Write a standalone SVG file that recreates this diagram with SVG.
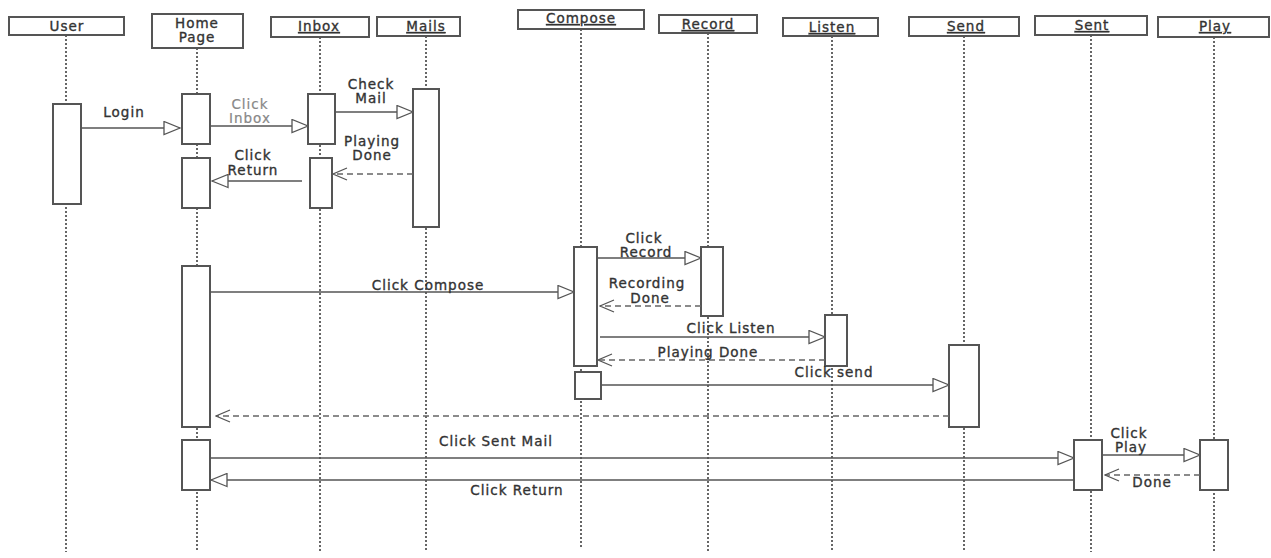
<svg xmlns="http://www.w3.org/2000/svg" width="1271" height="558" viewBox="0 0 1271 558">
<style>
.hdr{fill:#fff;stroke:#555;stroke-width:2}
.life{stroke:#666;stroke-width:2;stroke-dasharray:2 2;fill:none}
.act{fill:#fff;stroke:#555;stroke-width:2}
.msg{stroke:#555;stroke-width:1.3;fill:none}
.ret{stroke:#666;stroke-width:1.3;stroke-dasharray:6 4;fill:none}
text{font-family:"DejaVu Sans","Liberation Sans",sans-serif;font-size:13.5px;fill:#333;stroke:#333;stroke-width:0.35;letter-spacing:1px;text-anchor:middle}
.u{text-decoration:underline}
.g{fill:#888;stroke:#888;stroke-width:0.2}
</style>
<defs>
<marker id="tri" markerUnits="userSpaceOnUse" markerWidth="18" markerHeight="15" refX="16" refY="6.5" orient="auto" viewBox="-1 -1 18 15">
<path d="M0,0 L16,6.5 L0,13 Z" fill="#fff" stroke="#555" stroke-width="1.3"/>
</marker>
<marker id="open" markerUnits="userSpaceOnUse" markerWidth="16" markerHeight="14" refX="14" refY="6" orient="auto" viewBox="-1 -1 16 14">
<path d="M0,0 L14,6 L0,12" fill="none" stroke="#555" stroke-width="1.3"/>
</marker>
</defs>
<g id="lifelines">
<line class="life" x1="66" y1="35" x2="66" y2="552"/>
<line class="life" x1="197" y1="48" x2="197" y2="552"/>
<line class="life" x1="320" y1="37" x2="320" y2="552"/>
<line class="life" x1="426" y1="36" x2="426" y2="552"/>
<line class="life" x1="581" y1="29" x2="581" y2="548"/>
<line class="life" x1="708" y1="33" x2="708" y2="552"/>
<line class="life" x1="832" y1="36" x2="832" y2="552"/>
<line class="life" x1="964" y1="36" x2="964" y2="552"/>
<line class="life" x1="1091" y1="35" x2="1091" y2="552"/>
<line class="life" x1="1214" y1="37" x2="1214" y2="552"/>
</g>
<g id="node-user">
<rect class="hdr" x="9" y="17" width="115" height="18"/>
<text x="67" y="31">User</text>
<rect class="act" x="53" y="104" width="28" height="100"/>
</g>
<g id="node-home">
<rect class="hdr" x="152" y="14" width="91" height="34"/>
<text x="197" y="28">Home</text>
<text x="197" y="42">Page</text>
<rect class="act" x="182" y="94" width="28" height="50"/>
<rect class="act" x="182" y="158" width="28" height="50"/>
<rect class="act" x="182" y="266" width="28" height="161"/>
<rect class="act" x="182" y="440" width="28" height="50"/>
</g>
<g id="node-inbox">
<rect class="hdr" x="271" y="17" width="98" height="20"/>
<text class="u" x="319" y="31">Inbox</text>
<rect class="act" x="308" y="94" width="27" height="50"/>
<rect class="act" x="310" y="158" width="22" height="50"/>
</g>
<g id="node-mails">
<rect class="hdr" x="377" y="17" width="83" height="19"/>
<text class="u" x="426" y="31">Mails</text>
<rect class="act" x="413" y="89" width="26" height="138"/>
</g>
<g id="node-compose">
<rect class="hdr" x="518" y="10" width="126" height="19"/>
<text class="u" x="581" y="23">Compose</text>
<rect class="act" x="574" y="247" width="23" height="119"/>
<rect class="act" x="575" y="372" width="26" height="27"/>
</g>
<g id="node-record">
<rect class="hdr" x="659" y="15" width="98" height="18"/>
<text class="u" x="708" y="29">Record</text>
<rect class="act" x="701" y="247" width="22" height="69"/>
</g>
<g id="node-listen">
<rect class="hdr" x="783" y="18" width="95" height="18"/>
<text class="u" x="832" y="32">Listen</text>
<rect class="act" x="825" y="315" width="22" height="51"/>
</g>
<g id="node-send">
<rect class="hdr" x="909" y="17" width="110" height="19"/>
<text class="u" x="966" y="31">Send</text>
<rect class="act" x="949" y="345" width="30" height="82"/>
</g>
<g id="node-sent">
<rect class="hdr" x="1035" y="16" width="112" height="19"/>
<text class="u" x="1092" y="30">Sent</text>
<rect class="act" x="1074" y="440" width="28" height="50"/>
</g>
<g id="node-play">
<rect class="hdr" x="1158" y="17" width="111" height="20"/>
<text class="u" x="1215" y="31">Play</text>
<rect class="act" x="1200" y="440" width="28" height="50"/>
</g>
<g id="connectors">
<line class="msg" x1="81" y1="128" x2="180" y2="128" marker-end="url(#tri)"/>
<line class="msg" x1="210" y1="126" x2="308" y2="126" marker-end="url(#tri)"/>
<line class="msg" x1="335" y1="112" x2="413" y2="112" marker-end="url(#tri)"/>
<line class="ret" x1="413" y1="174" x2="333" y2="174" marker-end="url(#open)"/>
<line class="msg" x1="302" y1="181" x2="212" y2="181" marker-end="url(#tri)"/>
<line class="msg" x1="210" y1="292" x2="574" y2="292" marker-end="url(#tri)"/>
<line class="msg" x1="597" y1="258" x2="701" y2="258" marker-end="url(#tri)"/>
<line class="ret" x1="701" y1="306" x2="600" y2="306" marker-end="url(#open)"/>
<line class="msg" x1="600" y1="337" x2="825" y2="337" marker-end="url(#tri)"/>
<line class="ret" x1="825" y1="360" x2="598" y2="360" marker-end="url(#open)"/>
<line class="msg" x1="601" y1="385" x2="949" y2="385" marker-end="url(#tri)"/>
<line class="ret" x1="949" y1="416" x2="216" y2="416" marker-end="url(#open)"/>
<line class="msg" x1="210" y1="458" x2="1074" y2="458" marker-end="url(#tri)"/>
<line class="msg" x1="1074" y1="480" x2="211" y2="480" marker-end="url(#tri)"/>
<line class="msg" x1="1102" y1="455" x2="1200" y2="455" marker-end="url(#tri)"/>
<line class="ret" x1="1200" y1="475" x2="1105" y2="475" marker-end="url(#open)"/>
</g>
<g id="labels">
<text x="124" y="117">Login</text>
<text class="g" x="250" y="109">Click</text>
<text class="g" x="250" y="123">Inbox</text>
<text x="371" y="89">Check</text>
<text x="371" y="103">Mail</text>
<text x="372" y="146">Playing</text>
<text x="372" y="160">Done</text>
<text x="253" y="160">Click</text>
<text x="253" y="175">Return</text>
<text x="428" y="290">Click Compose</text>
<text x="644" y="243">Click</text>
<text x="646" y="257">Record</text>
<text x="647" y="288">Recording</text>
<text x="650" y="303">Done</text>
<text x="731" y="333">Click Listen</text>
<text x="708" y="357">Playing Done</text>
<text x="834" y="377">Click send</text>
<text x="496" y="446">Click Sent Mail</text>
<text x="517" y="495">Click Return</text>
<text x="1129" y="438">Click</text>
<text x="1131" y="452">Play</text>
<text x="1152" y="487">Done</text>
</g>
</svg>
